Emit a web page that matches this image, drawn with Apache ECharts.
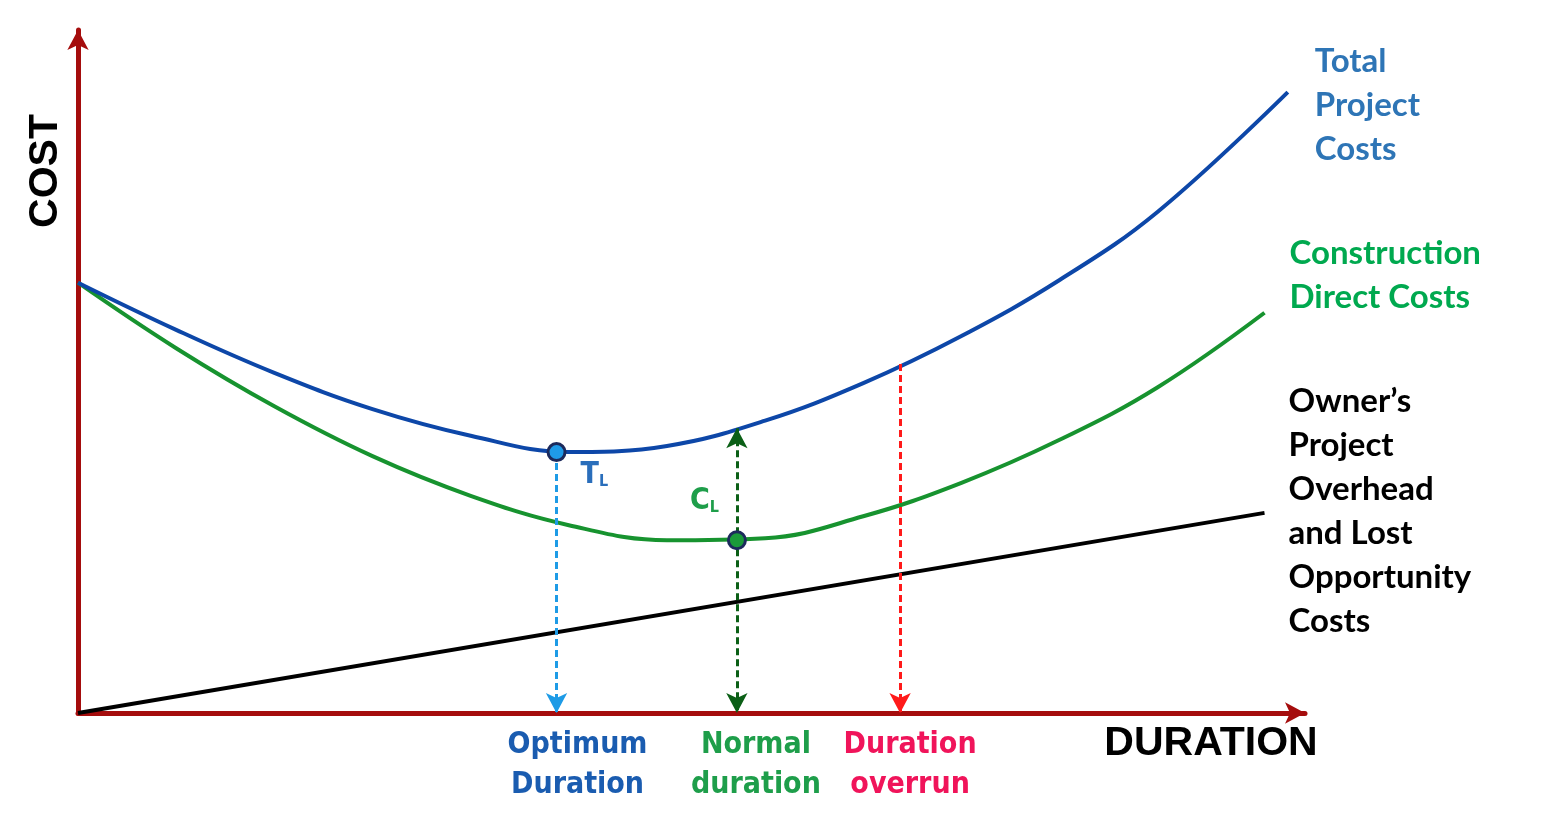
<!DOCTYPE html>
<html>
<head>
<meta charset="utf-8">
<script src="https://cdn.jsdelivr.net/npm/echarts@6/dist/echarts.min.js"></script>
<style>
  html, body { margin: 0; padding: 0; background: #fff; }
  #chart { width: 1551px; height: 830px; }
</style>
</head>
<body>
<div id="chart"></div>
<script>
// duration / cost in relative units (0-100)
var totalDuration = [0, 8, 16, 24, 32, 40, 48, 56, 64, 72, 80, 88, 98.6];
var totalCost     = [63.0, 56.1, 49.8, 44.5, 40.6, 38.2, 39.1, 42.8, 48.3, 55.2, 63.4, 73.4, 90.9];

var directDuration = [0, 8, 16, 24, 32, 40, 48, 56, 64, 72, 80, 88, 96.7];
var directCost     = [63.0, 53.4, 44.9, 37.6, 31.8, 27.5, 25.3, 25.6, 28.8, 33.7, 40.0, 47.7, 58.6];

var overheadDuration = [0, 96.7];
var overheadCost     = [0, 29.3];

// marked durations and the costs read at them
var optimumX = 39.0, optimumTotalCost = 38.2;
var normalX = 53.7, normalTotalCost = 41.7, normalDirectCost = 25.3;
var overrunX = 67.0, overrunTotalCost = 51.1;

function pairs(xs, ys) {
    return xs.map(function (x, i) { return [x, ys[i]]; });
}

var bottomLabel = {
    show: true,
    position: 'end',
    distance: 12,
    fontFamily: 'DejaVu Sans Condensed',
    fontWeight: 'bold',
    fontSize: 30,
    lineHeight: 40
};
var sideLabel = {
    show: true,
    fontFamily: 'Lato',
    fontWeight: 'bold',
    fontSize: 33,
    lineHeight: 44,
    align: 'left',
    verticalAlign: 'middle',
    distance: 0
};

var myChart = echarts.init(document.getElementById('chart'));
var option = {
    animation: false,
    grid: { left: 78, right: 246, top: 30, bottom: 117 },
    xAxis: {
        type: 'value', min: 0, max: 100,
        axisLine: { show: true, symbol: ['none', 'arrow'], symbolSize: [16, 20],
            lineStyle: { color: '#a50d0d', width: 5 } },
        axisTick: { show: false }, axisLabel: { show: false }, splitLine: { show: false }
    },
    yAxis: {
        type: 'value', min: 0, max: 100,
        axisLine: { show: true, symbol: ['none', 'arrow'], symbolSize: [16, 20],
            lineStyle: { color: '#a50d0d', width: 5 } },
        axisTick: { show: false }, axisLabel: { show: false }, splitLine: { show: false }
    },
    graphic: [
        { type: 'text', x: 46, y: 171, rotation: Math.PI / 2,
          style: { text: 'COST', font: 'bold 41px "Liberation Sans"', fill: '#000',
                   textAlign: 'center', textVerticalAlign: 'middle' } },
        { type: 'text', x: 1211, y: 744,
          style: { text: 'DURATION', font: 'bold 41px "Liberation Sans"', fill: '#000',
                   textAlign: 'center', textVerticalAlign: 'middle' } }
    ],
    series: [
        {
            name: 'Owner overhead',
            type: 'line',
            data: pairs(overheadDuration, overheadCost),
            showSymbol: false,
            lineStyle: { color: '#000', width: 4 },
            endLabel: Object.assign({}, sideLabel, {
                formatter: 'Owner\u2019s\nProject\nOverhead\nand Lost\nOpportunity\nCosts',
                color: '#000', offset: [24, -2]
            })
        },
        {
            name: 'Construction direct',
            type: 'line',
            data: pairs(directDuration, directCost),
            smooth: 0.4,
            showSymbol: false,
            lineStyle: { color: '#17932f', width: 4 },
            endLabel: Object.assign({}, sideLabel, {
                formatter: 'Construction\nDirect Costs',
                color: '#00a94f', offset: [25, -37]
            }),
            markLine: {
                silent: true,
                symbol: ['arrow', 'arrow'],
                symbolSize: [16, 20],
                data: [
                    [
                        { coord: [normalX, normalTotalCost],
                          lineStyle: { color: '#0b5f16', type: [7, 4], width: 3 },
                          label: Object.assign({}, bottomLabel, { formatter: 'Normal\nduration', color: '#1e9e4a', offset: [19, 0] }) },
                        { coord: [normalX, 0] }
                    ]
                ]
            },
            markPoint: {
                silent: true,
                symbol: 'circle',
                symbolSize: 17,
                itemStyle: { color: '#1a9a3a', borderColor: '#1c2a5c', borderWidth: 3 },
                label: {
                    show: true, position: 'inside', align: 'left', verticalAlign: 'top',
                    offset: [-47, -54],
                    formatter: '{b|C}{s|L}',
                    rich: {
                        b: { fontFamily: 'DejaVu Sans Condensed', fontWeight: 'bold', fontSize: 30, color: '#1e9e4a' },
                        s: { fontFamily: 'DejaVu Sans Condensed', fontWeight: 'bold', fontSize: 16, color: '#1e9e4a', padding: [14, 0, 0, 0] }
                    }
                },
                data: [{ coord: [normalX, normalDirectCost] }]
            }
        },
        {
            name: 'Total project',
            type: 'line',
            data: pairs(totalDuration, totalCost),
            smooth: 0.4,
            showSymbol: false,
            lineStyle: { color: '#0d47a8', width: 4 },
            endLabel: Object.assign({}, sideLabel, {
                formatter: 'Total\nProject\nCosts',
                color: '#2e75b6', offset: [27, 13]
            }),
            markLine: {
                silent: true,
                symbol: ['none', 'arrow'],
                symbolSize: [16, 20],
                data: [
                    [
                        { coord: [optimumX, optimumTotalCost],
                          lineStyle: { color: '#1e9be6', type: [7, 4], width: 3 },
                          label: Object.assign({}, bottomLabel, { formatter: 'Optimum\nDuration', color: '#1a5cb0', offset: [21, 0] }) },
                        { coord: [optimumX, 0] }
                    ],
                    [
                        { coord: [overrunX, overrunTotalCost],
                          lineStyle: { color: '#ff1a1a', type: [7, 4], width: 3 },
                          label: Object.assign({}, bottomLabel, { formatter: 'Duration\noverrun', color: '#f0145a', offset: [10, 0] }) },
                        { coord: [overrunX, 0] }
                    ]
                ]
            },
            markPoint: {
                silent: true,
                symbol: 'circle',
                symbolSize: 17,
                itemStyle: { color: '#1f9be8', borderColor: '#1c2a5c', borderWidth: 3 },
                label: {
                    show: true, position: 'inside', align: 'left', verticalAlign: 'top',
                    offset: [24, 8],
                    formatter: '{b|T}{s|L}',
                    rich: {
                        b: { fontFamily: 'DejaVu Sans Condensed', fontWeight: 'bold', fontSize: 30, color: '#2a6ebb' },
                        s: { fontFamily: 'DejaVu Sans Condensed', fontWeight: 'bold', fontSize: 16, color: '#2a6ebb', padding: [14, 0, 0, 0] }
                    }
                },
                data: [{ coord: [optimumX, optimumTotalCost] }]
            }
        }
    ]
};
myChart.setOption(option);
</script>
</body>
</html>
